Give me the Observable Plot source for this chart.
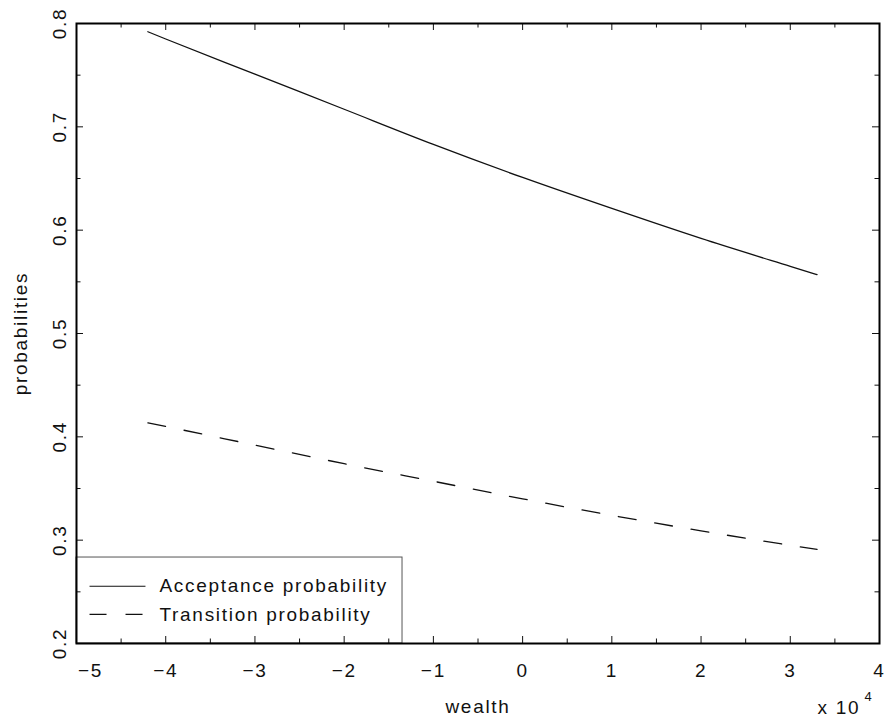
<!DOCTYPE html>
<html>
<head>
<meta charset="utf-8">
<script src="https://cdn.jsdelivr.net/npm/d3@7"></script>
<script src="https://cdn.jsdelivr.net/npm/@observablehq/plot@0.6"></script>
<style>
  html, body { margin: 0; padding: 0; background: #fff; }
  svg text { letter-spacing: 1.7px; }
</style>
</head>
<body>
<div id="chart"></div>
<script>
// Data (wealth in units of 10^4)
const wealth = [-4.2, -4, -3, -2, -1, 0, 1, 2, 3, 3.3];
const acceptance = [0.792, 0.785, 0.751, 0.717, 0.683, 0.651, 0.621, 0.592, 0.565, 0.557];
const transition = [0.4135, 0.410, 0.392, 0.374, 0.357, 0.340, 0.324, 0.309, 0.295, 0.291];
const seriesNames = ["Acceptance probability", "Transition probability"];
const xTicks = [-5, -4, -3, -2, -1, 0, 1, 2, 3, 4];
const xMinor = [-4.5, -3.5, -2.5, -1.5, -0.5, 0.5, 1.5, 2.5, 3.5];
const yTicks = [0.2, 0.3, 0.4, 0.5, 0.6, 0.7, 0.8];
const yMinor = [0.25, 0.35, 0.45, 0.55, 0.65, 0.75];

const accData = wealth.map((w, i) => ({w, p: acceptance[i]}));
const trnData = wealth.map((w, i) => ({w, p: transition[i]}));

const W = 887, H = 721;
const mL = 76, mR = 8, mT = 23, mB = 78;
const fw = W - mL - mR, fh = H - mT - mB;
const font = "Liberation Sans, Arial, sans-serif";
const fmt = d => (d < 0 ? "\u2212" : "") + Math.abs(d);

// legend placed in data space (lower-left corner of frame)
const legendSolid = [{name: seriesNames[0], y: 0.2554}];
const legendDashed = [{name: seriesNames[1], y: 0.2281}];

const plot = Plot.plot({
  width: W, height: H,
  marginLeft: mL, marginRight: mR, marginTop: mT, marginBottom: mB,
  style: {fontFamily: font, fontSize: "19px", color: "#111", background: "#fff"},
  x: {domain: [-5, 4], axis: null},
  y: {domain: [0.2, 0.8], axis: null},
  marks: [
    Plot.line(accData, {x: "w", y: "p", stroke: "#111", strokeWidth: 1.3, curve: "monotone-x"}),
    Plot.line(trnData, {x: "w", y: "p", stroke: "#111", strokeWidth: 1.3, strokeDasharray: "18,18.9", curve: "monotone-x"}),
    // legend box
    Plot.rect([0], {x1: -5, x2: -1.346, y1: 0.2, y2: 0.2832, fill: "white", stroke: "#555", strokeWidth: 1}),
    Plot.link(legendSolid, {x1: -4.854, x2: -4.227, y1: "y", y2: "y", stroke: "#111", strokeWidth: 1.2}),
    Plot.link(legendDashed, {x1: -4.854, x2: -4.227, y1: "y", y2: "y", stroke: "#111", strokeWidth: 1.2, strokeDasharray: "17,19"}),
    Plot.text(legendSolid.concat(legendDashed), {x: -4.07, y: "y", text: "name", textAnchor: "start", fill: "#111", fontSize: 19}),
    // ticks (inside the frame)
    Plot.ruleX(xTicks, {insetTop: fh - 7, stroke: "#111", strokeWidth: 1}),
    Plot.ruleX(xTicks, {insetBottom: fh - 7, stroke: "#111", strokeWidth: 1}),
    Plot.ruleX(xMinor, {insetTop: fh - 4.5, stroke: "#111", strokeWidth: 1}),
    Plot.ruleX(xMinor, {insetBottom: fh - 4.5, stroke: "#111", strokeWidth: 1}),
    Plot.ruleY(yTicks, {insetRight: fw - 7, stroke: "#111", strokeWidth: 1}),
    Plot.ruleY(yTicks, {insetLeft: fw - 7, stroke: "#111", strokeWidth: 1}),
    Plot.ruleY(yMinor, {insetRight: fw - 4.5, stroke: "#111", strokeWidth: 1}),
    Plot.ruleY(yMinor, {insetLeft: fw - 4.5, stroke: "#111", strokeWidth: 1}),
    Plot.frame({stroke: "#000", strokeWidth: 2}),
    // x tick labels
    Plot.text(xTicks.slice(0, 1), {x: d => d, frameAnchor: "bottom", dy: 27, dx: 14, textAnchor: "middle", lineAnchor: "middle", text: fmt, fill: "#111"}),
    Plot.text(xTicks.slice(1), {x: d => d, frameAnchor: "bottom", dy: 27, textAnchor: "middle", lineAnchor: "middle", text: fmt, fill: "#111"}),
    // y tick labels (rotated)
    Plot.text(yTicks, {y: d => d, frameAnchor: "left", dx: -17, rotate: -90, textAnchor: "middle", lineAnchor: "middle", text: d => d.toFixed(1), fill: "#111"}),
    // axis labels
    Plot.text(["wealth"], {frameAnchor: "bottom", dy: 63, textAnchor: "middle", lineAnchor: "middle", text: d => d, fill: "#111"}),
    Plot.text(["x 10"], {frameAnchor: "bottom-right", dy: 64, dx: -62, textAnchor: "start", lineAnchor: "middle", text: d => d, fill: "#111"}),
    Plot.text(["4"], {frameAnchor: "bottom-right", dy: 53, dx: -15, textAnchor: "start", lineAnchor: "middle", fontSize: 13, text: d => d, fill: "#111"}),
    Plot.text(["probabilities"], {frameAnchor: "left", dx: -56, rotate: -90, textAnchor: "middle", lineAnchor: "middle", text: d => d, fill: "#111"})
  ]
});
document.getElementById("chart").appendChild(plot);
</script>
</body>
</html>
